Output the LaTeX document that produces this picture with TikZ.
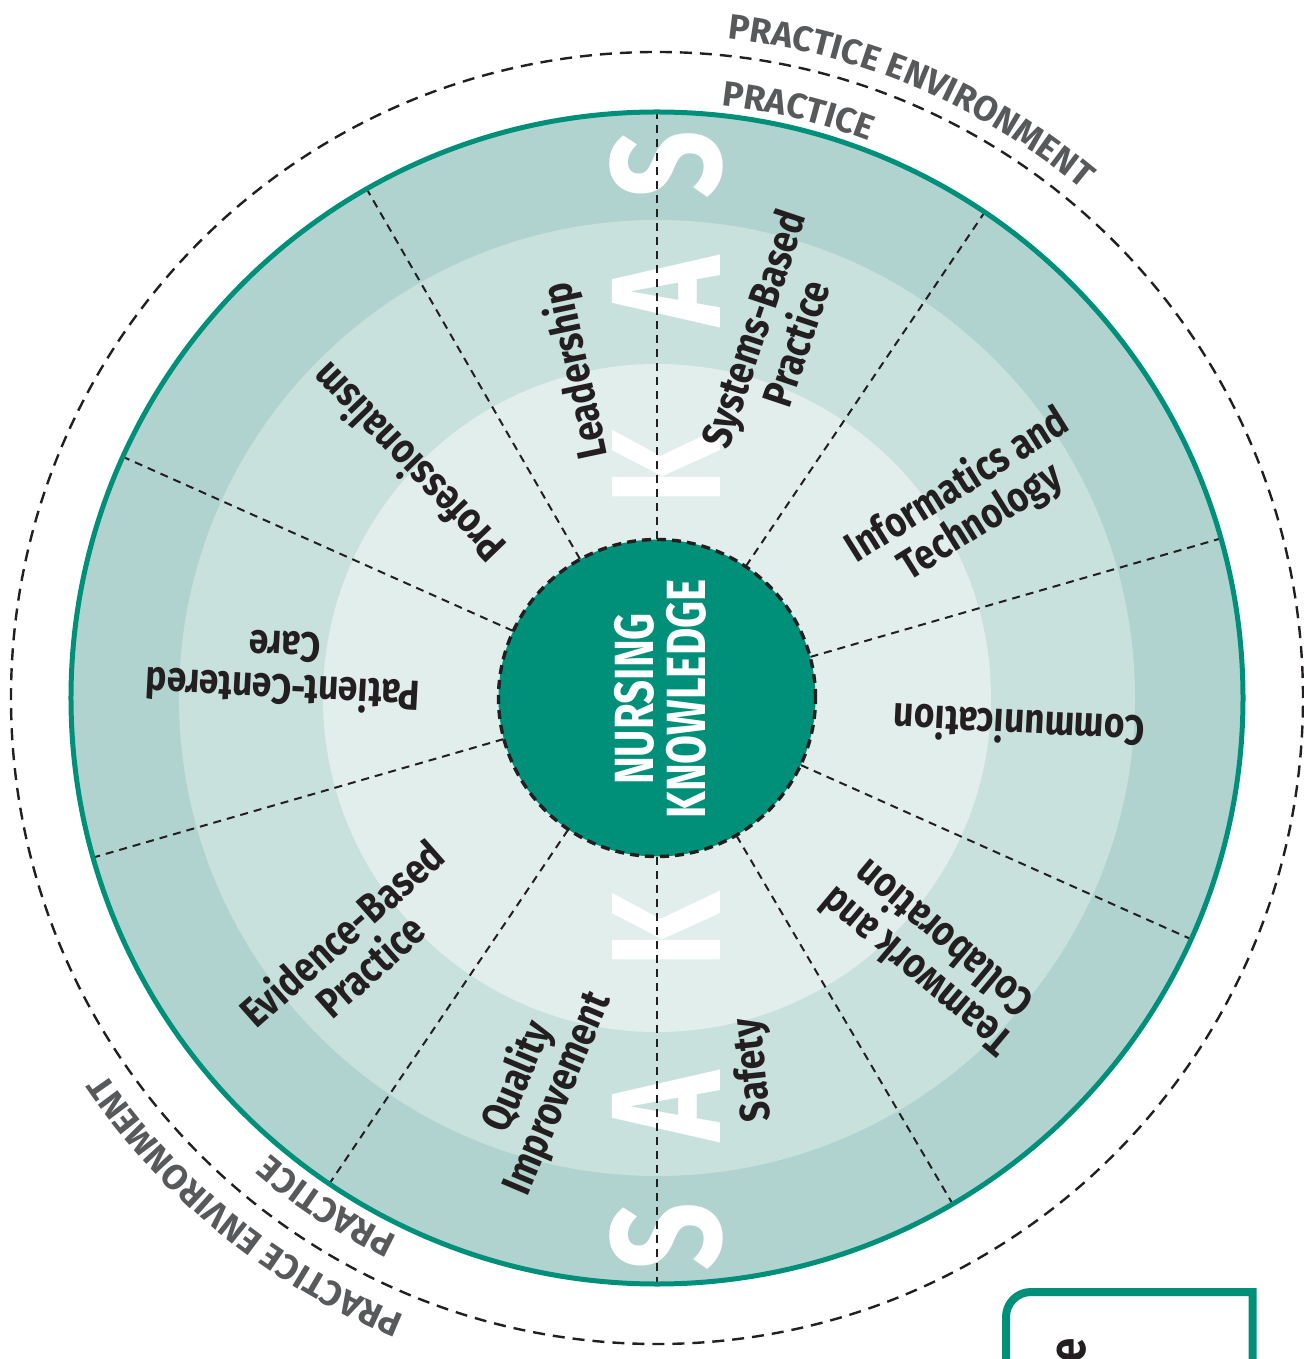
\documentclass[tikz,border=0pt]{standalone}
\usepackage{fontspec}
\setmainfont{Fira Sans}
\newfontfamily\labf{Fira Sans}[FakeStretch=0.84]
\newfontfamily\bigf{Fira Sans}[FakeStretch=0.76]
\usetikzlibrary{decorations.text}
\definecolor{ringA}{HTML}{B1D3CF}
\definecolor{ringB}{HTML}{C9E1DD}
\definecolor{ringC}{HTML}{E1EEEB}
\definecolor{tealc}{HTML}{00907A}
\definecolor{ink}{HTML}{231F20}
\definecolor{grayc}{HTML}{58595B}
\newcommand\arcfont{\bfseries\fontsize{17.6}{17.6}\selectfont}
\tikzset{
  lab/.style={font=\labf\bfseries\fontsize{21}{21.5}\selectfont, text=ink, align=center, inner sep=0pt},
  bigl/.style={font=\bigf\bfseries\fontsize{78}{78}\selectfont, text=white, inner sep=0pt, rotate=90},
  divider/.style={draw=ink, line width=1pt, dash pattern=on 4pt off 3pt},
  coreline/.style={draw=ink, line width=1.7pt, dash pattern=on 4.5pt off 3pt},
  outerdash/.style={draw=ink, line width=1.2pt, dash pattern=on 6pt off 4pt},
  arctext/.style={decorate, decoration={text along path, text align=center, text color=grayc}},
  boxline/.style={draw=tealc, line width=4pt}
}
\begin{document}
\begin{tikzpicture}[x=0.5pt,y=0.5pt]
\useasboundingbox (-657,-661) rectangle (646,698);
% rings
\fill[ringA] (0,0) circle[radius=586];
\fill[ringB] (0,0) circle[radius=478];
\fill[ringC] (0,0) circle[radius=334];
% big letters
\node[bigl] (s1) at (9,533) {S};
\node[bigl] (a1) at (9,406) {A};
\node[bigl] (k1) at (9,231) {K};
\node[bigl] (k2) at (9,-232) {K};
\node[bigl] (a2) at (9,-409) {A};
\node[bigl] (s2) at (9,-539) {S};
% core
\node[circle, fill=tealc, minimum size=158.5pt, inner sep=0pt] (core) at (0,0) {};
% dividers
\foreach \a [count=\i] in {90,56,15.8,335.7,300.3,270,236,195.8,155.7,119.7}{
  \coordinate (rim\i) at (\a:586);
  \draw[divider] (core.\a) -- (rim\i);
}
\draw[tealc, line width=2.5pt] (0,0) circle[radius=586];
\draw[coreline] (0,0) circle[radius=158.5];
\node[font=\bigf\bfseries\fontsize{27.6}{26}\selectfont, text=white, rotate=90, align=center, inner sep=0pt] (coretext) at (3,-1) {NURSING\\KNOWLEDGE};
% labels
\node[lab, rotate=102] (lead) at (-80,327) {Leadership};
\node[lab, rotate=71.5] (sys) at (117,362) {Systems-Based\\Practice};
\node[lab, rotate=32] (info) at (312,194) {Informatics and\\Technology};
\node[lab, rotate=177] (comm) at (362,-29) {Communication};
\node[lab, rotate=140] (team) at (272,-258) {Teamwork and\\Collaboration};
\node[lab, rotate=96] (safe) at (97,-372) {Safety};
\node[lab, rotate=67] (qual) at (-119,-387) {Quality\\Improvement};
\node[lab, rotate=41.5] (evid) at (-302,-251) {Evidence-Based\\Practice};
\node[lab, rotate=177] (pat) at (-373,28) {Patient-Centered\\Care};
\node[lab, rotate=134] (prof) at (-250,234) {Professionalism};
% outer dashed circle
\draw[outerdash] (0,0) circle[radius=646];
% curved texts
\path[arctext, decoration={text={|\arcfont|PRACTICE ENVIRONMENT}}] (100:663) arc[start angle=100, end angle=34, radius=663];
\path[arctext, decoration={text={|\arcfont|PRACTICE}}] (100:596) arc[start angle=100, end angle=53, radius=596];
\path[arctext, decoration={text={|\arcfont|PRACTICE ENVIRONMENT}}] (264:667) arc[start angle=264, end angle=198, radius=667];
\path[arctext, decoration={text={|\arcfont|PRACTICE}}] (260:598) arc[start angle=260, end angle=214, radius=598];
% partial box
\begin{scope}
\clip (-657,-661) rectangle (646,698);
\draw[boxline] (349,-720) -- (349,-619) arc[start angle=180, end angle=90, radius=25] -- (595.5,-594) -- (595.5,-720);
\node[lab, font=\labf\bfseries\fontsize{26}{26}\selectfont, rotate=90, anchor=east] (etext) at (415,-640) {e};
\end{scope}
\end{tikzpicture}
\end{document}
